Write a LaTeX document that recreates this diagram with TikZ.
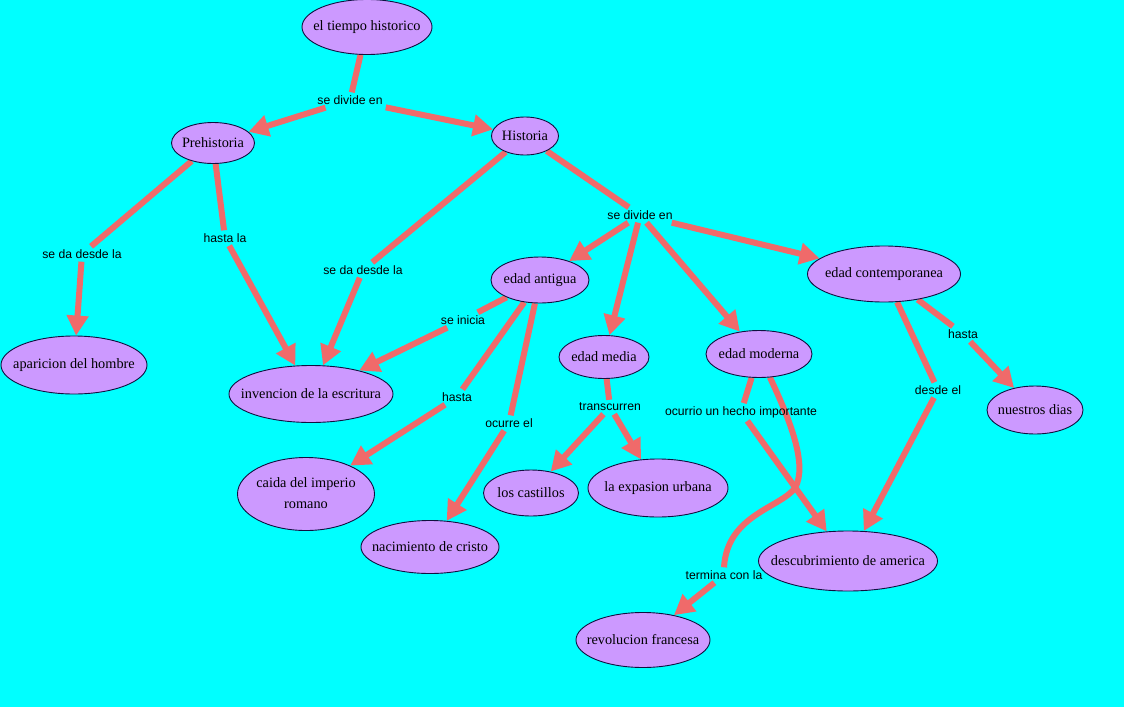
\documentclass[tikz,border=0pt]{standalone}
\usepackage{fontspec}
\setmainfont{Liberation Serif}
\newfontfamily\lblfont{Liberation Sans}
\usetikzlibrary{shapes.geometric,arrows.meta}
\definecolor{bg}{HTML}{00FFFF}
\definecolor{nodefill}{HTML}{CC99FF}
\definecolor{edgecol}{HTML}{F06A6A}
\definecolor{bordercol}{HTML}{101040}
\newcommand{\zw}[1]{\makebox[0pt]{#1}}
\pgfdeclarelayer{paper}
\pgfdeclarelayer{edges}
\pgfsetlayers{paper,edges,main}
\begin{document}
\begin{tikzpicture}[x=1pt,y=-1pt,
  concept/.style={ellipse,draw=bordercol,line width=0.9pt,fill=nodefill,inner sep=0pt,
    font=\fontsize{14.3}{21}\selectfont},
  lbl/.style={font=\lblfont\fontsize{12.2}{14}\selectfont,inner sep=3pt},
  link/.style={draw=edgecol,line width=6pt},
  arr/.style={link,-{Triangle[length=20pt,width=21pt]}}
]
\begin{pgfonlayer}{paper}
\fill[bg] (0,0) rectangle (1124,707);
\end{pgfonlayer}
\useasboundingbox (0,0) rectangle (1124,707);

% concepts
\node[concept,minimum width=130pt,minimum height=55pt] (tiempo) at (367,27) {\zw{el tiempo historico}};
\node[concept,minimum width=83pt,minimum height=41pt] (prehist) at (213,143) {\zw{Prehistoria}};
\node[concept,minimum width=67pt,minimum height=38pt] (hist) at (525,136) {\zw{Historia}};
\node[concept,minimum width=98pt,minimum height=46pt] (antigua) at (540,280) {\zw{edad antigua}};
\node[concept,minimum width=90pt,minimum height=43pt] (media) at (604,357) {\zw{edad media}};
\node[concept,minimum width=106pt,minimum height=47pt] (moderna) at (759,354) {\zw{edad moderna}};
\node[concept,minimum width=153pt,minimum height=56pt] (contemp) at (884,274) {\zw{edad contemporanea}};
\node[concept,minimum width=146pt,minimum height=58pt] (aparicion) at (74,365) {\zw{aparicion del hombre}};
\node[concept,minimum width=164pt,minimum height=57pt] (invencion) at (311,394) {\zw{invencion de la escritura}};
\node[concept,minimum width=137pt,minimum height=73pt] (caida) at (306,494) {\zw{\begin{tabular}{@{}c@{}}caida del imperio\\romano\end{tabular}}};
\node[concept,minimum width=138pt,minimum height=53pt] (nacimiento) at (430,547) {\zw{nacimiento de cristo}};
\node[concept,minimum width=95pt,minimum height=46pt] (castillos) at (531,493) {\zw{los castillos}};
\node[concept,minimum width=140pt,minimum height=58pt] (expasion) at (658,488) {\zw{la expasion urbana}};
\node[concept,minimum width=179pt,minimum height=60pt] (descub) at (848,561) {\zw{descubrimiento de america}};
\node[concept,minimum width=96pt,minimum height=48pt] (nuestros) at (1035,410) {\zw{nuestros dias}};
\node[concept,minimum width=134pt,minimum height=55pt] (revol) at (643,640) {\zw{revolucion francesa}};

% link labels
\node[lbl] (l1) at (350,100) {se divide en};
\node[lbl] (l2) at (82,254) {se da desde la};
\node[lbl] (l3) at (225,238) {hasta la};
\node[lbl] (l4) at (363,270) {se da desde la};
\node[lbl] (l5) at (640,215) {se divide en};
\node[lbl] (l6) at (463,320) {se inicia};
\node[lbl] (l7) at (457,397) {hasta};
\node[lbl] (l8) at (509,423) {ocurre el};
\node[lbl] (l9) at (610,407) {transcurren};
\node[lbl] (l10) at (741,412) {ocurrio un hecho importante};
\node[lbl] (l11) at (724,575) {termina con la};
\node[lbl] (l12) at (938,390) {desde el};
\node[lbl] (l13) at (963,334) {hasta};

% connectors
\begin{pgfonlayer}{edges}
\draw[link] (tiempo) -- (l1);
\draw[arr] (l1) -- (prehist);
\draw[arr] (l1) -- (hist);
\draw[link] (prehist) -- (l2);
\draw[arr] (l2) -- (aparicion);
\draw[link] (prehist) -- (l3);
\draw[arr] (l3) -- (invencion);
\draw[link] (hist) -- (l4);
\draw[arr] (l4) -- (invencion);
\draw[link] (hist) -- (l5);
\draw[arr] (l5) -- (antigua);
\draw[arr] (l5) -- (media);
\draw[arr] (l5) -- (moderna);
\draw[arr] (l5) -- (contemp);
\draw[link] (antigua) -- (l6);
\draw[arr] (l6) -- (invencion);
\draw[link] (antigua) -- (l7);
\draw[arr] (l7) -- (caida);
\draw[link] (antigua) -- (l8);
\draw[arr] (l8) -- (nacimiento);
\draw[link] (media) -- (l9);
\draw[arr] (l9) -- (castillos);
\draw[arr] (l9) -- (expasion);
\draw[link] (moderna) -- (l10);
\draw[arr] (l10) -- (descub);
\draw[link] (moderna.-65) .. controls (790,420) and (808,465) .. (795,488)
  .. controls (780,508) and (727,515) .. (l11.north);
\draw[arr] (l11) -- (revol);
\draw[link] (contemp) -- (l12);
\draw[arr] (l12) -- (descub);
\draw[link] (contemp) -- (l13);
\draw[arr] (l13) -- (nuestros);
\end{pgfonlayer}
\end{tikzpicture}
\end{document}
